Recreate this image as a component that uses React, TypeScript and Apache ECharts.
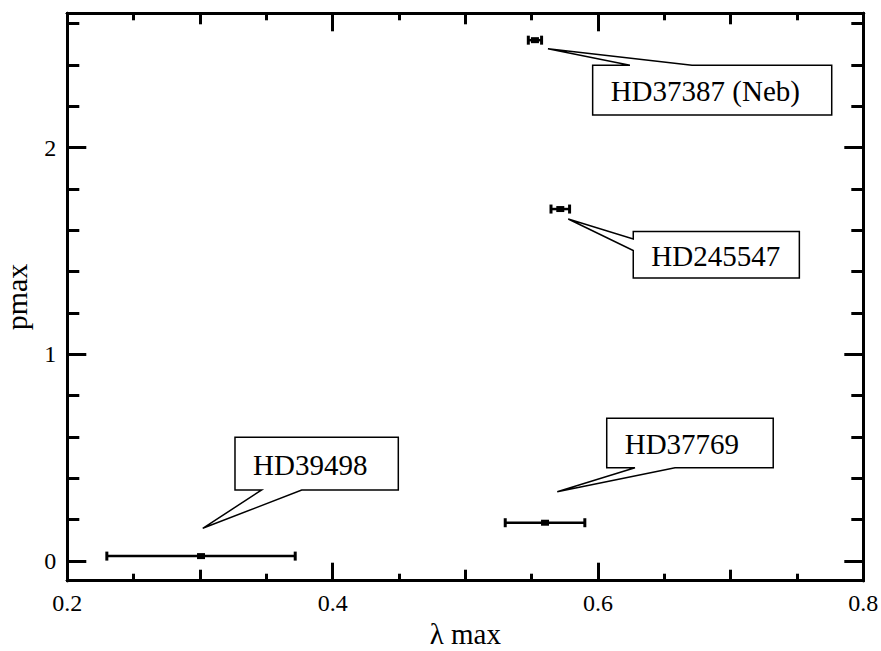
import React, { useEffect, useRef } from "react";
import * as echarts from "echarts";

// ---- data ----
const stars = ["HD37387 (Neb)", "HD245547", "HD37769", "HD39498"];
const lambdaMax = [0.5525, 0.5716, 0.5601, 0.3008];
const pMax = [2.52, 1.703, 0.1855, 0.024];
const lambdaErr = [0.005, 0.007, 0.03, 0.071];

// ---- axis ticks ----
const xMajor = [0.2, 0.4, 0.6, 0.8];
const xMedium = [0.3, 0.5, 0.7];
const xMinor = [0.25, 0.35, 0.45, 0.55, 0.65, 0.75];
const yMajor = [0, 1, 2];
const yMinor = [0.2, 0.4, 0.6, 0.8, 1.2, 1.4, 1.6, 1.8, 2.2, 2.4, 2.6];

// ---- callout layout (data units) ----
const calloutLeft = [0.596, 0.6266, 0.6066, 0.3264];
const calloutRight = [0.7762, 0.7518, 0.7321, 0.4495];
const calloutTop = [2.3985, 1.5947, 0.691, 0.599];
const calloutBottom = [2.1574, 1.369, 0.4518, 0.3438];
const tipX = [0.5623, 0.5776, 0.5693, 0.3021];
const tipY = [2.478, 1.6547, 0.3356, 0.1584];
const wedgeSide = ["top", "left", "bottom", "bottom"];
const wedgeA = [0.6241, 1.5579, 0.6279, 0.3465];
const wedgeB = [0.6709, 1.5027, 0.6581, 0.3767];

const FONT = "Times New Roman";
const X_MIN = 0.2, X_MAX = 0.8, Y_MIN = -0.095, Y_MAX = 2.65;

function xAx(pos: string, ticks: number[], len: number, labels: boolean, extra: any = {}) {
  return {
    type: "value", position: pos, min: X_MIN, max: X_MAX,
    axisLine: { show: true, onZero: false, lineStyle: { color: "#000", width: 3 } },
    axisTick: { show: true, inside: true, length: len, customValues: ticks, lineStyle: { color: "#000", width: 3 } },
    axisLabel: labels
      ? { show: true, customValues: ticks, color: "#000", fontFamily: FONT, fontSize: 24, margin: 10, formatter: (v: number) => String(v) }
      : { show: false },
    splitLine: { show: false },
    ...extra,
  };
}
function yAx(pos: string, ticks: number[], len: number, labels: boolean, extra: any = {}) {
  return {
    type: "value", position: pos, min: Y_MIN, max: Y_MAX,
    axisLine: { show: true, onZero: false, lineStyle: { color: "#000", width: 3 } },
    axisTick: { show: true, inside: true, length: len, customValues: ticks, lineStyle: { color: "#000", width: 3 } },
    axisLabel: labels
      ? { show: true, customValues: ticks, color: "#000", fontFamily: FONT, fontSize: 24, margin: 11, formatter: (v: number) => String(v) }
      : { show: false },
    splitLine: { show: false },
    ...extra,
  };
}

export default function App() {
  const ref = useRef<HTMLDivElement>(null);
  useEffect(() => {
    if (!ref.current) return;
    const chart = echarts.init(ref.current, undefined, { renderer: "svg" });
    const data = stars.map((s, i) => [lambdaMax[i], pMax[i], lambdaErr[i], s]);
    chart.setOption({
      animation: false,
      backgroundColor: "#fff",
      textStyle: { fontFamily: FONT },
      grid: { left: 67.3, right: 17.7, top: 13.3, bottom: 70.3, containLabel: false, outerBoundsMode: "none" },
      xAxis: [
        xAx("bottom", xMajor, 18, true, {
          name: "λ max", nameLocation: "middle", nameGap: 38,
          nameTextStyle: { color: "#000", fontFamily: FONT, fontSize: 29 },
        }),
        xAx("bottom", xMedium, 11, false),
        xAx("bottom", xMinor, 7, false),
        xAx("top", xMajor, 18, false),
        xAx("top", xMedium, 11, false),
        xAx("top", xMinor, 7, false),
      ],
      yAxis: [
        yAx("left", yMajor, 19, true, {
          name: "pmax", nameLocation: "middle", nameGap: 36,
          nameTextStyle: { color: "#000", fontFamily: FONT, fontSize: 30 },
        }),
        yAx("left", yMinor, 12, false),
        yAx("right", yMajor, 19, false),
        yAx("right", yMinor, 12, false),
      ],
      series: [
        {
          type: "custom",
          xAxisIndex: 0,
          yAxisIndex: 0,
          clip: false,
          data,
          encode: { x: 0, y: 1 },
          renderItem: (params: any, api: any) => {
            const x = api.value(0), y = api.value(1), e = api.value(2);
            const pl = api.coord([x - e, y]);
            const pr = api.coord([x + e, y]);
            const pc = api.coord([x, y]);
            const st = { stroke: "#000", lineWidth: 2.5 };
            const cap = { stroke: "#000", lineWidth: 3 };
            return {
              type: "group",
              children: [
                { type: "line", shape: { x1: pl[0], y1: pl[1], x2: pr[0], y2: pr[1] }, style: st },
                { type: "line", shape: { x1: pl[0], y1: pl[1] - 4.5, x2: pl[0], y2: pl[1] + 4.5 }, style: cap },
                { type: "line", shape: { x1: pr[0], y1: pr[1] - 4.5, x2: pr[0], y2: pr[1] + 4.5 }, style: cap },
                { type: "rect", shape: { x: pc[0] - 4, y: pc[1] - 3, width: 8, height: 6 }, style: { fill: "#000" } },
              ],
            };
          },
        },
      ],
    });

    const toPx = (p: number[]) => chart.convertToPixel({ xAxisIndex: 0, yAxisIndex: 0 } as any, p) as number[];
    const graphics: any[] = [];
    stars.forEach((name, i) => {
      const [l, t] = toPx([calloutLeft[i], calloutTop[i]]);
      const [r, b] = toPx([calloutRight[i], calloutBottom[i]]);
      const tip = toPx([tipX[i], tipY[i]]);
      let pts: number[][] = [];
      if (wedgeSide[i] === "top") {
        const a = toPx([wedgeA[i], 0])[0], c = toPx([wedgeB[i], 0])[0];
        pts = [[l, t], [a, t], tip, [c, t], [r, t], [r, b], [l, b]];
      } else if (wedgeSide[i] === "bottom") {
        const a = toPx([wedgeA[i], 0])[0], c = toPx([wedgeB[i], 0])[0];
        pts = [[l, t], [r, t], [r, b], [c, b], tip, [a, b], [l, b]];
      } else {
        const ya = toPx([0, wedgeA[i]])[1], yb = toPx([0, wedgeB[i]])[1];
        pts = [[l, t], [r, t], [r, b], [l, b], [l, yb], tip, [l, ya]];
      }
      graphics.push({
        type: "polygon",
        shape: { points: pts },
        style: { fill: "#fff", stroke: "#000", lineWidth: 1.5 },
        z: 100,
      });
      graphics.push({
        type: "text",
        x: l + 18,
        y: (t + b) / 2 + 1,
        style: { text: name, fill: "#000", fontFamily: FONT, fontSize: 29, align: "left", verticalAlign: "middle" },
        z: 101,
      });
    });
    chart.setOption({ graphic: graphics });

    return () => chart.dispose();
  }, []);
  return (
    <div
      ref={ref}
      style={{ position: "fixed", left: 0, top: 0, width: 881, height: 651, background: "#fff" }}
    />
  );
}
